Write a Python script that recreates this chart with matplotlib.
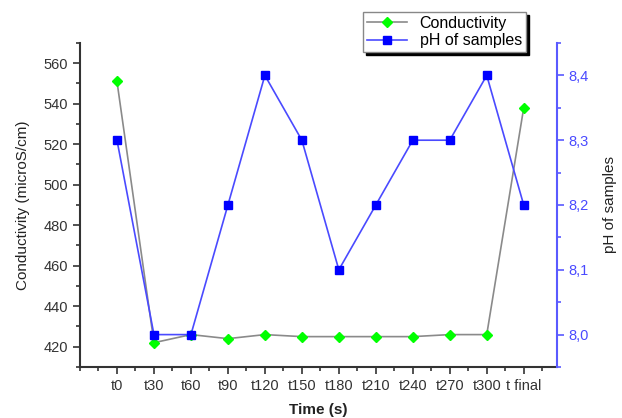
import matplotlib
matplotlib.use("Agg")
import matplotlib.pyplot as plt
from matplotlib.ticker import MultipleLocator, FuncFormatter

plt.rcParams['font.family'] = ['Liberation Sans', 'DejaVu Sans']

times = ['t0', 't30', 't60', 't90', 't120', 't150', 't180', 't210', 't240', 't270', 't300', 't final']
conductivity = [551, 422, 426, 424, 426, 425, 425, 425, 425, 426, 426, 538]
ph = [8.3, 8.0, 8.0, 8.2, 8.4, 8.3, 8.1, 8.2, 8.3, 8.3, 8.4, 8.2]

x = list(range(len(times)))

fig = plt.figure(figsize=(6.22, 4.18), dpi=100)
ax = fig.add_axes([80/622, 1 - 367/418, (557-80)/622, (367-43)/418])
ax2 = ax.twinx()

l1, = ax.plot(x, conductivity, color='#8a8a8a', lw=1.2, marker='D', ms=5.5,
              mfc='#00ff00', mec='#00ff00', label='Conductivity', zorder=3)
l2, = ax2.plot(x, ph, color='#4a4aff', lw=1.2, marker='s', ms=5.5,
               mfc='#0000ff', mec='#0000ff', label='pH of samples', zorder=2)

ax.set_xlim(-1, 11.9)
ax.set_ylim(410, 570)
ax2.set_ylim(7.95, 8.45)

ax.set_xticks(x)
ax.set_xticklabels(times)
ax.xaxis.set_minor_locator(MultipleLocator(0.5))
ax.yaxis.set_major_locator(MultipleLocator(20))
ax.yaxis.set_minor_locator(MultipleLocator(10))
ax2.yaxis.set_major_locator(MultipleLocator(0.1))
ax2.yaxis.set_minor_locator(MultipleLocator(0.05))
ax2.yaxis.set_major_formatter(FuncFormatter(lambda v, p: ('%.1f' % v).replace('.', ',')))

for a in (ax, ax2):
    a.spines['top'].set_visible(False)
ax.spines['right'].set_visible(False)
ax2.spines['left'].set_visible(False)
ax2.spines['bottom'].set_visible(False)
ax.spines['left'].set_color('#333333')
ax.spines['bottom'].set_color('#333333')
ax.spines['left'].set_linewidth(1.5)
ax.spines['bottom'].set_linewidth(1.5)
ax2.spines['right'].set_color('#5a5aff')
ax2.spines['right'].set_linewidth(1.5)

ax.tick_params(axis='both', which='major', direction='out', length=5, width=1.2,
               colors='#333333', labelsize=10.5, labelcolor='#333333')
ax.tick_params(axis='both', which='minor', direction='out', length=3, width=1.2, colors='#333333')
ax2.tick_params(axis='y', which='major', direction='out', length=5, width=1.2,
                colors='#5a5aff', labelsize=10.5, labelcolor='#4a4aff')
ax2.tick_params(axis='y', which='minor', direction='out', length=3, width=1.2, colors='#5a5aff')

ax.set_ylabel('Conductivity (microS/cm)', fontsize=11, color='#222222', labelpad=10)
ax2.set_ylabel('pH of samples', fontsize=11, color='#222222', labelpad=10)
ax.set_xlabel('Time (s)', fontsize=11, color='#222222', fontweight='bold', labelpad=7)

leg = ax.legend([l1, l2], ['Conductivity', 'pH of samples'], loc='upper left',
                bbox_to_anchor=(363/622, 1 - 12/418), bbox_transform=fig.transFigure,
                fontsize=11.5, frameon=True, fancybox=False, shadow={'color': 'black', 'alpha': 1},
                borderpad=0.25, handlelength=2.5, labelspacing=0.15, borderaxespad=0)
leg.get_frame().set_edgecolor('#888888')
leg.set_zorder(10)

fig.savefig('out.png', dpi=100)
